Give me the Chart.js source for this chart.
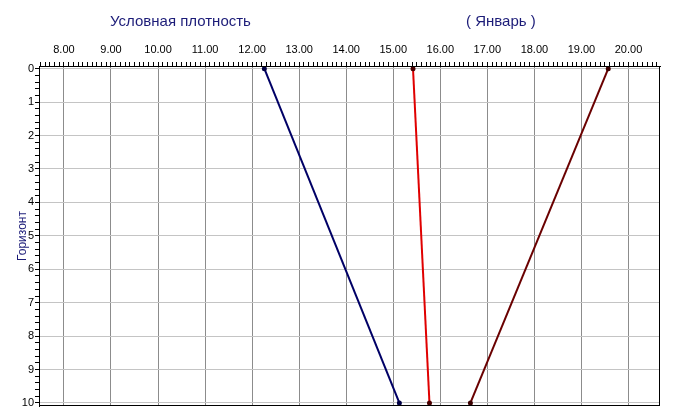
<!DOCTYPE html>
<html>
<head>
<meta charset="utf-8">
<script src="https://cdn.jsdelivr.net/npm/chart.js@4/dist/chart.umd.min.js"></script>
<style>
  body { margin: 0; background: #fff; }
  #wrap { position: relative; width: 675px; height: 419px; }
  .ttl { position: absolute; top: 12px; font: 15px "Liberation Sans", Arial, sans-serif; color: #1c1c78; }
</style>
</head>
<body>
<div id="wrap">
  <canvas id="chart" width="675" height="419"></canvas>
  <div class="ttl" style="left:110px">Условная плотность</div>
  <div class="ttl" style="left:466px">( Январь )</div>
</div>
<script>
console.log("connected")

// horizon depth (y) for each line
let horizons = [0, 10];
// density values at each horizon
let blueValues = [12.26, 15.13];
let redValues = [15.42, 15.77];
let darkRedValues = [19.57, 16.64];

let xTickLabels = [8, 9, 10, 11, 12, 13, 14, 15, 16, 17, 18, 19, 20];
let yTickLabels = [0, 1, 2, 3, 4, 5, 6, 7, 8, 9, 10];

function points(vals) {
    return vals.map((v, i) => ({x: v, y: horizons[i]}));
}

function isMajor(c, list) {
    return c.tick !== undefined && list.includes(c.tick.value);
}

// draw the frame round the plot
const frame = {
    id: 'frame',
    afterDraw(chart) {
        let a = chart.chartArea, c = chart.ctx;
        c.save();
        c.strokeStyle = '#000';
        c.lineWidth = 1;
        c.strokeRect(a.left + 0.5, a.top + 0.5, a.right - a.left - 1, a.bottom - a.top - 1);
        c.restore();
    }
};

let ctx = document.getElementById('chart').getContext('2d');
let chart = new Chart(ctx, {
    type: 'scatter',
    data: {
        datasets: [
            {data: points(blueValues), borderColor: '#000066', pointBorderColor: '#000044', pointBackgroundColor: '#000044', borderWidth: 2},
            {data: points(redValues), borderColor: '#e00000', pointBorderColor: '#4a0000', pointBackgroundColor: '#4a0000', borderWidth: 2},
            {data: points(darkRedValues), borderColor: '#6a0000', pointBorderColor: '#3a0000', pointBackgroundColor: '#3a0000', borderWidth: 2}
        ]
    },
    options: {
        responsive: false,
        animation: false,
        showLine: true,
        layout: {padding: {top: 0, right: 15, bottom: 13, left: 0}},
        elements: {point: {radius: 1.5, borderWidth: 1, hoverRadius: 1.5}, line: {tension: 0}},
        plugins: {legend: {display: false}, tooltip: {enabled: false}},
        scales: {
            x: {
                type: 'linear',
                position: 'top',
                min: 7.47,
                max: 20.67,
                afterBuildTicks(scale) {
                    let t = [];
                    for (let i = 75; i <= 206; i++) t.push({value: i / 10});
                    scale.ticks = t;
                },
                afterFit(scale) { scale.height = 66; },
                border: {color: '#000', width: 1},
                grid: {
                    color: c => isMajor(c, xTickLabels) ? '#8c8c8c' : 'rgba(0,0,0,0)',
                    tickColor: '#000',
                    tickLength: 4
                },
                ticks: {
                    autoSkip: false,
                    maxRotation: 0,
                    padding: 5,
                    color: '#000',
                    font: {family: 'Liberation Sans', size: 11},
                    callback: v => xTickLabels.includes(v) ? v.toFixed(2) : ''
                }
            },
            y: {
                type: 'linear',
                reverse: true,
                min: -0.08,
                max: 10.09,
                afterBuildTicks(scale) {
                    let t = [];
                    for (let i = 0; i <= 50; i++) t.push({value: i / 5});
                    scale.ticks = t;
                },
                afterFit(scale) { scale.width = 39; },
                border: {color: '#000', width: 1},
                title: {
                    display: true,
                    text: 'Горизонт',
                    color: '#1c1c78',
                    font: {family: 'Liberation Sans', size: 12},
                    padding: {top: 15, bottom: 0}
                },
                grid: {
                    color: c => isMajor(c, yTickLabels) ? '#c4c4c4' : 'rgba(0,0,0,0)',
                    tickColor: '#000',
                    tickLength: 4
                },
                ticks: {
                    autoSkip: false,
                    padding: 1,
                    color: '#000',
                    font: {family: 'Liberation Sans', size: 11},
                    callback: v => yTickLabels.includes(v) ? String(v) : ''
                }
            }
        }
    },
    plugins: [frame]
});
</script>
</body>
</html>
